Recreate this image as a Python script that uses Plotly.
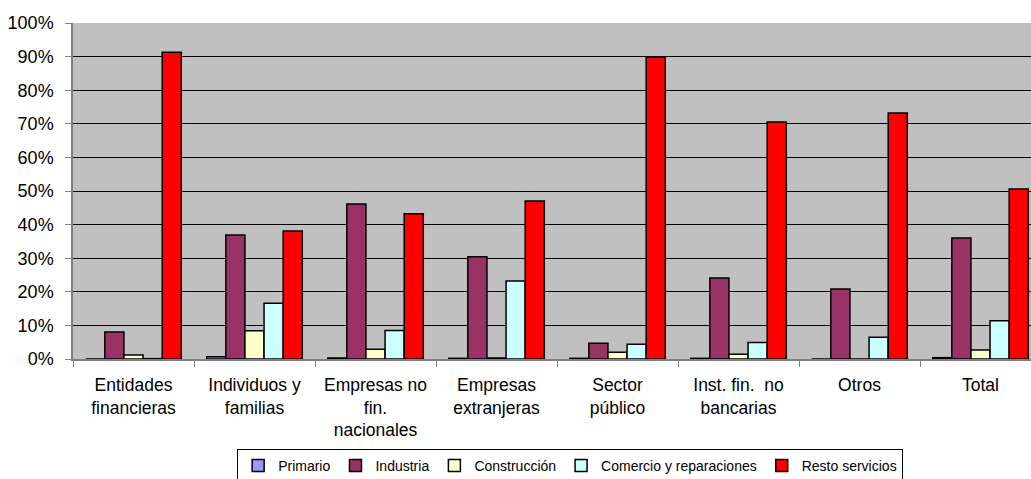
import plotly.graph_objects as go

categories = ["Entidades<br>financieras", "Individuos y<br>familias", "Empresas no<br>fin.<br>nacionales",
              "Empresas<br>extranjeras", "Sector<br>público", "Inst. fin.  no<br>bancarias", "Otros", "Total"]
primario = [0.0, 0.7, 0.3, 0.2, 0.2, 0.2, 0.0, 0.4]
industria = [8.0, 36.9, 46.1, 30.4, 4.7, 24.1, 20.8, 36.0]
construccion = [1.2, 8.4, 2.9, 0.3, 2.0, 1.4, 0.0, 2.7]
comercio = [0.1, 16.6, 8.5, 23.2, 4.4, 4.9, 6.5, 11.4]
resto = [91.3, 38.1, 43.2, 47.0, 89.9, 70.5, 73.2, 50.6]

series = [
    ("Primario", primario, "#9999FF"),
    ("Industria", industria, "#993366"),
    ("Construcción", construccion, "#FFFFCC"),
    ("Comercio y reparaciones", comercio, "#CCFFFF"),
    ("Resto servicios", resto, "#FF0000"),
]

fig = go.Figure()
for name, vals, col in series:
    fig.add_trace(go.Bar(x=categories, y=vals, name=name,
                         marker=dict(color=col, line=dict(color="black", width=1.5))))

fig.update_layout(
    width=1031, height=479,
    margin=dict(l=73, r=0, t=23, b=120),
    paper_bgcolor="white", plot_bgcolor="#C0C0C0",
    barmode="group", bargap=0.21, bargroupgap=0.0,
    font=dict(family="Liberation Sans, Arial, sans-serif", size=17, color="black"),
    legend=dict(orientation="h", xref="container", yref="container",
                x=0.553, xanchor="center", y=0.063, yanchor="top",
                bordercolor="black", borderwidth=1, font=dict(size=14),
                itemwidth=30, tracegroupgap=0),
    showlegend=True,
)
fig.update_yaxes(range=[0, 100], dtick=10, ticksuffix="%", showgrid=True, gridcolor="black",
                 gridwidth=1, showline=True, linecolor="#808080", linewidth=1.5,
                 ticks="outside", ticklen=6, tickcolor="#808080", zeroline=False,
                 tickfont=dict(size=18), ticklabelstandoff=8)
fig.update_xaxes(range=[-0.5, 7.5 - 10 / 121], showline=True, linecolor="#808080", linewidth=1.5,
                 ticks="outside", tickson="boundaries", ticklen=6, tickcolor="#808080",
                 tickfont=dict(size=17.5), tickangle=0, ticklabelstandoff=9)

fig.write_html("out.html", config={"displayModeBar": False},
               post_script="document.body.style.margin='0';document.body.style.overflow='hidden';")
